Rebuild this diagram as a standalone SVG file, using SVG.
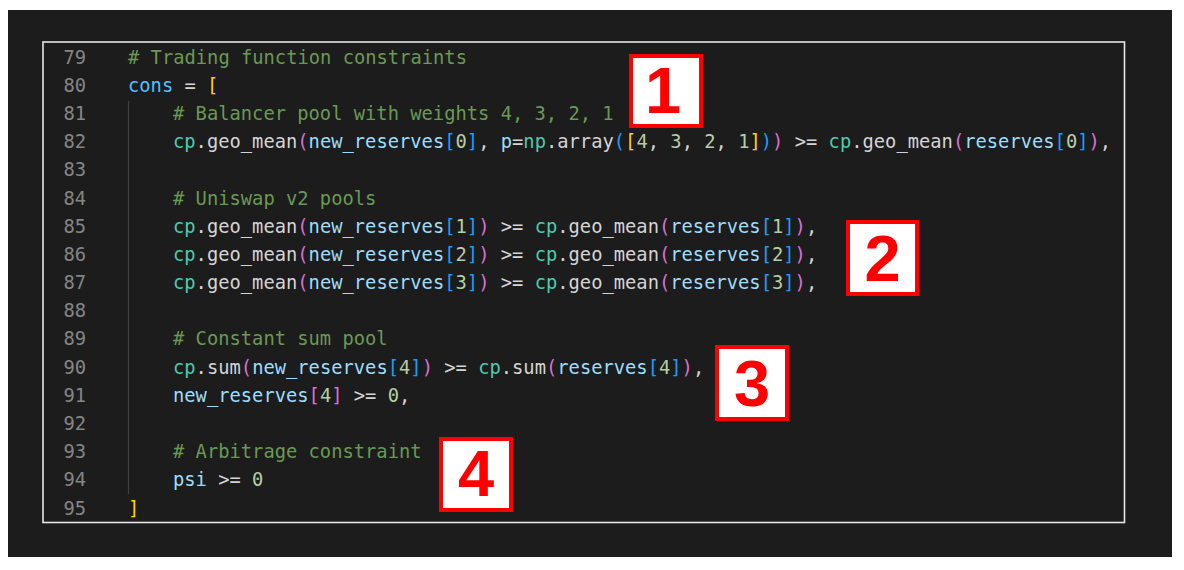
<svg xmlns="http://www.w3.org/2000/svg" width="1184" height="570" viewBox="0 0 1184 570">
<style>
.code{font-family:'DejaVu Sans Mono','Liberation Mono',monospace;font-size:18.77px}
.ln{fill:#858585}
.c{fill:#6a9955}
.k{fill:#4fc1ff}
.w{fill:#d4d4d4}
.t{fill:#4ec9b0}
.v{fill:#9cdcfe}
.n{fill:#b5cea8}
.p1{fill:#ffd700}
.p2{fill:#da70d6}
.p3{fill:#179fff}
.box{fill:#ffffff;stroke:#ff0000;stroke-width:4}
.num{font-family:'Liberation Sans',Arial,sans-serif;font-weight:bold;font-size:65px;fill:#ff0000;text-anchor:middle}
</style>
<rect x="0" y="0" width="1184" height="570" fill="#ffffff"/>
<g id="frame">
<rect x="8" y="10" width="1164" height="547" fill="#1c1c1c"/>
<rect x="43" y="42" width="1081.5" height="480.5" fill="#1c1c1c" stroke="#e6e6e6" stroke-width="1.6"/>
<line x1="128.5" y1="101" x2="128.5" y2="494" stroke="#404040" stroke-width="1.2"/>
</g>
<g id="line-numbers" class="code ln" text-anchor="end">
<text x="86" y="63.5">79</text>
<text x="86" y="91.7">80</text>
<text x="86" y="119.9">81</text>
<text x="86" y="148.1">82</text>
<text x="86" y="176.3">83</text>
<text x="86" y="204.5">84</text>
<text x="86" y="232.6">85</text>
<text x="86" y="260.8">86</text>
<text x="86" y="289">87</text>
<text x="86" y="317.2">88</text>
<text x="86" y="345.4">89</text>
<text x="86" y="373.6">90</text>
<text x="86" y="401.8">91</text>
<text x="86" y="430">92</text>
<text x="86" y="458.2">93</text>
<text x="86" y="486.4">94</text>
<text x="86" y="514.5">95</text>
</g>
<g id="code" class="code" xml:space="preserve">
<text x="128" y="63.5" class="c"># Trading function constraints</text>
<text x="128" y="91.7"><tspan class="k">cons</tspan><tspan class="w"> = </tspan><tspan class="p1">[</tspan></text>
<text x="173" y="119.9" class="c"># Balancer pool with weights 4, 3, 2, 1</text>
<text x="173" y="148.1"><tspan class="t">cp</tspan><tspan class="w">.geo_mean</tspan><tspan class="p2">(</tspan><tspan class="v">new_reserves</tspan><tspan class="p3">[</tspan><tspan class="n">0</tspan><tspan class="p3">]</tspan><tspan class="w">, </tspan><tspan class="v">p</tspan><tspan class="w">=</tspan><tspan class="t">np</tspan><tspan class="w">.array</tspan><tspan class="p3">(</tspan><tspan class="p1">[</tspan><tspan class="n">4</tspan><tspan class="w">, </tspan><tspan class="n">3</tspan><tspan class="w">, </tspan><tspan class="n">2</tspan><tspan class="w">, </tspan><tspan class="n">1</tspan><tspan class="p1">]</tspan><tspan class="p3">)</tspan><tspan class="p2">)</tspan><tspan class="w"> &gt;= </tspan><tspan class="t">cp</tspan><tspan class="w">.geo_mean</tspan><tspan class="p2">(</tspan><tspan class="v">reserves</tspan><tspan class="p3">[</tspan><tspan class="n">0</tspan><tspan class="p3">]</tspan><tspan class="p2">)</tspan><tspan class="w">,</tspan></text>
<text x="173" y="204.5" class="c"># Uniswap v2 pools</text>
<text x="173" y="232.6"><tspan class="t">cp</tspan><tspan class="w">.geo_mean</tspan><tspan class="p2">(</tspan><tspan class="v">new_reserves</tspan><tspan class="p3">[</tspan><tspan class="n">1</tspan><tspan class="p3">]</tspan><tspan class="p2">)</tspan><tspan class="w"> &gt;= </tspan><tspan class="t">cp</tspan><tspan class="w">.geo_mean</tspan><tspan class="p2">(</tspan><tspan class="v">reserves</tspan><tspan class="p3">[</tspan><tspan class="n">1</tspan><tspan class="p3">]</tspan><tspan class="p2">)</tspan><tspan class="w">,</tspan></text>
<text x="173" y="260.8"><tspan class="t">cp</tspan><tspan class="w">.geo_mean</tspan><tspan class="p2">(</tspan><tspan class="v">new_reserves</tspan><tspan class="p3">[</tspan><tspan class="n">2</tspan><tspan class="p3">]</tspan><tspan class="p2">)</tspan><tspan class="w"> &gt;= </tspan><tspan class="t">cp</tspan><tspan class="w">.geo_mean</tspan><tspan class="p2">(</tspan><tspan class="v">reserves</tspan><tspan class="p3">[</tspan><tspan class="n">2</tspan><tspan class="p3">]</tspan><tspan class="p2">)</tspan><tspan class="w">,</tspan></text>
<text x="173" y="289"><tspan class="t">cp</tspan><tspan class="w">.geo_mean</tspan><tspan class="p2">(</tspan><tspan class="v">new_reserves</tspan><tspan class="p3">[</tspan><tspan class="n">3</tspan><tspan class="p3">]</tspan><tspan class="p2">)</tspan><tspan class="w"> &gt;= </tspan><tspan class="t">cp</tspan><tspan class="w">.geo_mean</tspan><tspan class="p2">(</tspan><tspan class="v">reserves</tspan><tspan class="p3">[</tspan><tspan class="n">3</tspan><tspan class="p3">]</tspan><tspan class="p2">)</tspan><tspan class="w">,</tspan></text>
<text x="173" y="345.4" class="c"># Constant sum pool</text>
<text x="173" y="373.6"><tspan class="t">cp</tspan><tspan class="w">.sum</tspan><tspan class="p2">(</tspan><tspan class="v">new_reserves</tspan><tspan class="p3">[</tspan><tspan class="n">4</tspan><tspan class="p3">]</tspan><tspan class="p2">)</tspan><tspan class="w"> &gt;= </tspan><tspan class="t">cp</tspan><tspan class="w">.sum</tspan><tspan class="p2">(</tspan><tspan class="v">reserves</tspan><tspan class="p3">[</tspan><tspan class="n">4</tspan><tspan class="p3">]</tspan><tspan class="p2">)</tspan><tspan class="w">,</tspan></text>
<text x="173" y="401.8"><tspan class="v">new_reserves</tspan><tspan class="p2">[</tspan><tspan class="n">4</tspan><tspan class="p2">]</tspan><tspan class="w"> &gt;= </tspan><tspan class="n">0</tspan><tspan class="w">,</tspan></text>
<text x="173" y="458.2" class="c"># Arbitrage constraint</text>
<text x="173" y="486.4"><tspan class="v">psi</tspan><tspan class="w"> &gt;= </tspan><tspan class="n">0</tspan></text>
<text x="128" y="514.5" class="p1">]</text>
</g>
<g id="marker-1">
<rect class="box" x="631" y="56" width="70" height="70"/>
<text class="num" x="663" y="113">1</text>
</g>
<g id="marker-2">
<rect class="box" x="848" y="222" width="69" height="72"/>
<text class="num" x="882.5" y="281">2</text>
</g>
<g id="marker-3">
<rect class="box" x="717" y="347" width="70" height="72"/>
<text class="num" x="752" y="406">3</text>
</g>
<g id="marker-4">
<rect class="box" x="441" y="439" width="70" height="71"/>
<text class="num" x="476" y="496">4</text>
</g>
</svg>
